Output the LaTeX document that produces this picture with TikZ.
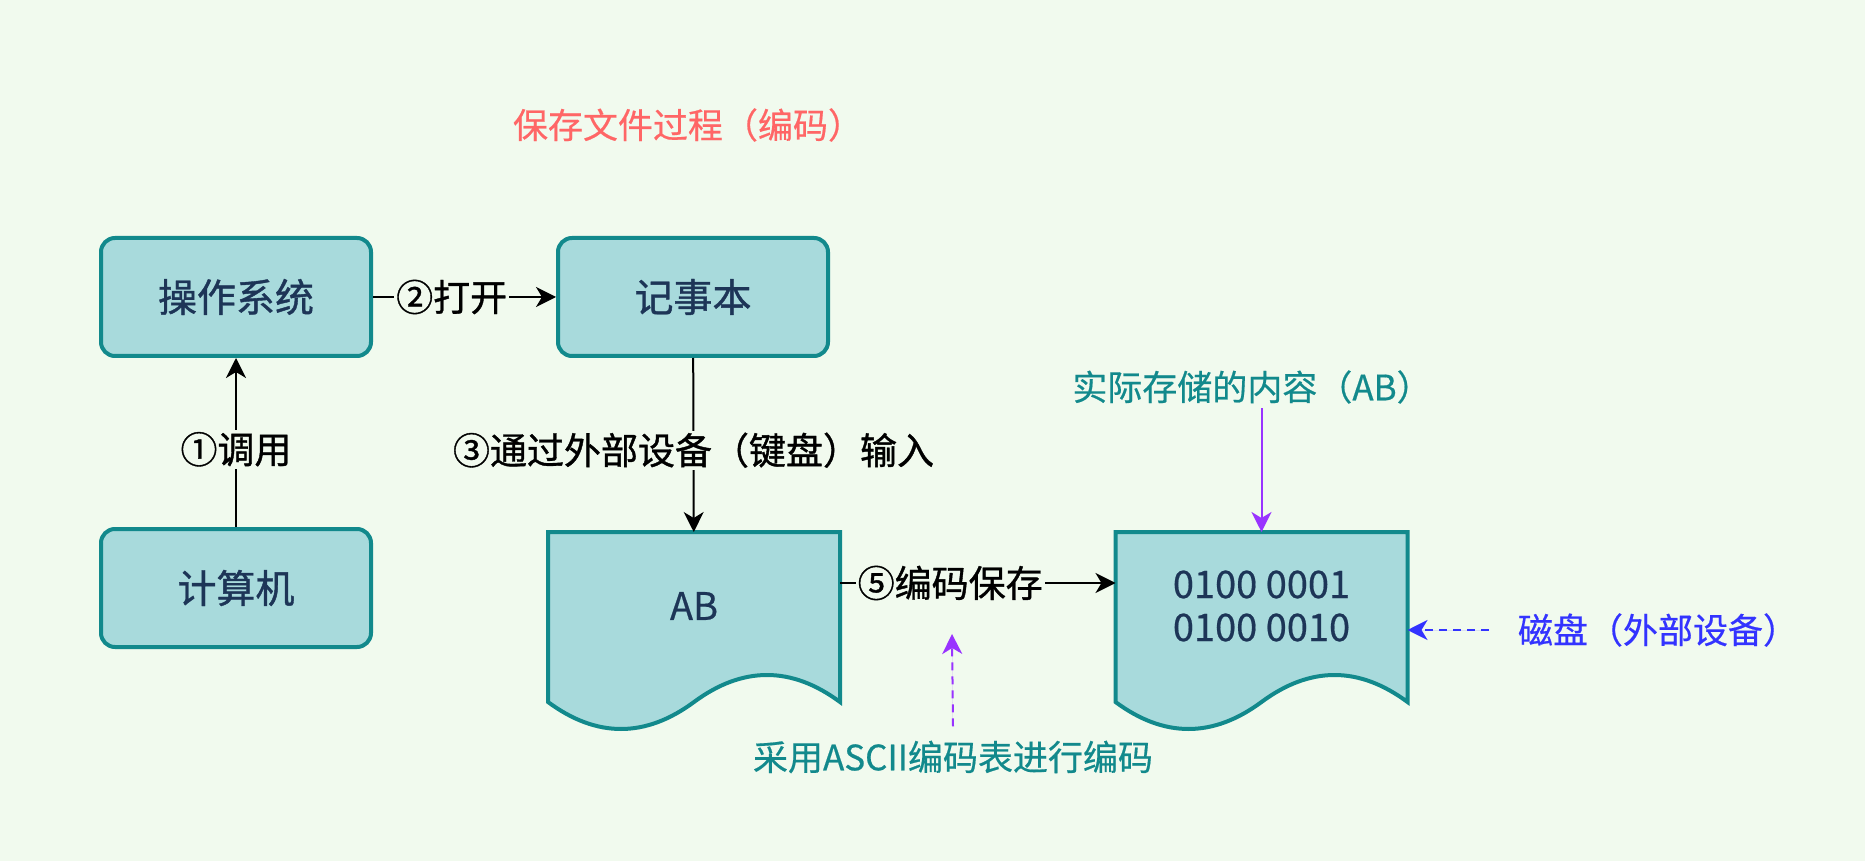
\documentclass[tikz,border=0pt]{standalone}
\usepackage{fontspec}
\setmainfont{Noto Sans CJK SC}
\newfontfamily\medfont{Noto Sans CJK SC}[FakeBold=1]
\newfontfamily\notefont{Noto Sans CJK SC}[FakeBold=0.5]
\usepackage{tikz}
\usetikzlibrary{arrows.meta,calc,backgrounds}
\definecolor{pagebg}{HTML}{F1FAEE}
\definecolor{boxfill}{HTML}{A8DADC}
\definecolor{boxline}{HTML}{12898C}
\definecolor{boxtext}{HTML}{1D3557}
\definecolor{titlered}{HTML}{FF6666}
\definecolor{notepurple}{HTML}{9933FF}
\definecolor{noteblue}{HTML}{3333FF}
\tikzset{
  proc/.style={draw=boxline,fill=boxfill,line width=2pt,rounded corners=7pt,
               minimum width=135pt,minimum height=59pt,text=boxtext,
               font=\medfont\fontsize{19.5}{23}\selectfont},
  docnode/.style={minimum width=146pt,minimum height=74pt,inner sep=0pt,outer sep=0pt,
               text=boxtext,align=center,font=\notefont\fontsize{19}{21.5}\selectfont},
  docline/.style={draw=boxline,fill=boxfill,line width=2pt},
  flow/.style={-{Stealth[length=10pt,width=10pt,inset=3pt]},line width=1pt,draw=black},
  lbl/.style={fill=pagebg,inner sep=1pt,font=\medfont\fontsize{18.5}{22}\selectfont},
  note/.style={font=\notefont\fontsize{17.5}{20}\selectfont,inner sep=2pt},
  pflow/.style={flow,draw=notepurple,fill=notepurple},
  pdash/.style={pflow,dash pattern=on 4pt off 3pt},
  bdash/.style={flow,draw=noteblue,fill=noteblue,dash pattern=on 4pt off 3pt},
}
% page with a wavy bottom edge, drawn round a named node
\newcommand\docshape[1]{%
  \draw[docline] (#1.north west) -- (#1.north east) -- ($(#1.south east)+(0,22)$)
    .. controls ($(#1.south east)!1/6!(#1.south west)+(0,-14)$)
       and ($(#1.south east)!1/3!(#1.south west)+(0,-14)$) .. ($(#1.south)+(0,22)$)
    .. controls ($(#1.south east)!2/3!(#1.south west)+(0,58)$)
       and ($(#1.south east)!5/6!(#1.south west)+(0,58)$) .. ($(#1.south west)+(0,22)$)
    -- cycle;}

\begin{document}
\begin{tikzpicture}[x=0.5pt,y=-0.5pt]
  \begin{scope}[on background layer]
    \fill[pagebg] (0,0) rectangle (1865,861);
  \end{scope}

  \node[note,text=titlered] (title) at (688,125) {保存文件过程（编码）};

  \node[proc] (os)   at (236,297) {操作系统};
  \node[proc] (edit) at (693,297) {记事本};
  \node[proc] (pc)   at (236,588) {计算机};

  \node[docnode] (txt)  at (694,606)    {AB};
  \node[docnode] (disk) at (1261.5,606) {0100 0001\\0100 0010};
  \begin{scope}[on background layer]
    \docshape{txt}
    \docshape{disk}
  \end{scope}

  \draw[flow] (pc) -- node[lbl,pos=0.46]{①调用} (os);
  \draw[flow] (os) -- node[lbl,pos=0.43]{②打开} (edit);
  \draw[flow] (edit) -- node[lbl,pos=0.53]{③通过外部设备（键盘）输入} (txt);
  \draw[flow] ([yshift=11.5pt]txt.east) -- node[lbl,pos=0.4]{⑤编码保存} ([yshift=11.5pt]disk.west);

  \node[note,text=boxline] (stored) at (1252,387) {实际存储的内容（AB）};
  \draw[pflow] (stored.south -| disk.north) -- (disk.north);

  \node[note,text=noteblue] (dlbl) at (1658,630) {磁盘（外部设备）};
  \draw[bdash,shorten <=12.5pt] (dlbl.west) -- (dlbl.west -| disk.east);

  \node[note,text=boxline] (ascii) at (953,757) {采用ASCII编码表进行编码};
  \coordinate (hint) at (952,634);
  \draw[pdash] ([yshift=5pt]ascii.north) -- (hint);
\end{tikzpicture}
\end{document}
